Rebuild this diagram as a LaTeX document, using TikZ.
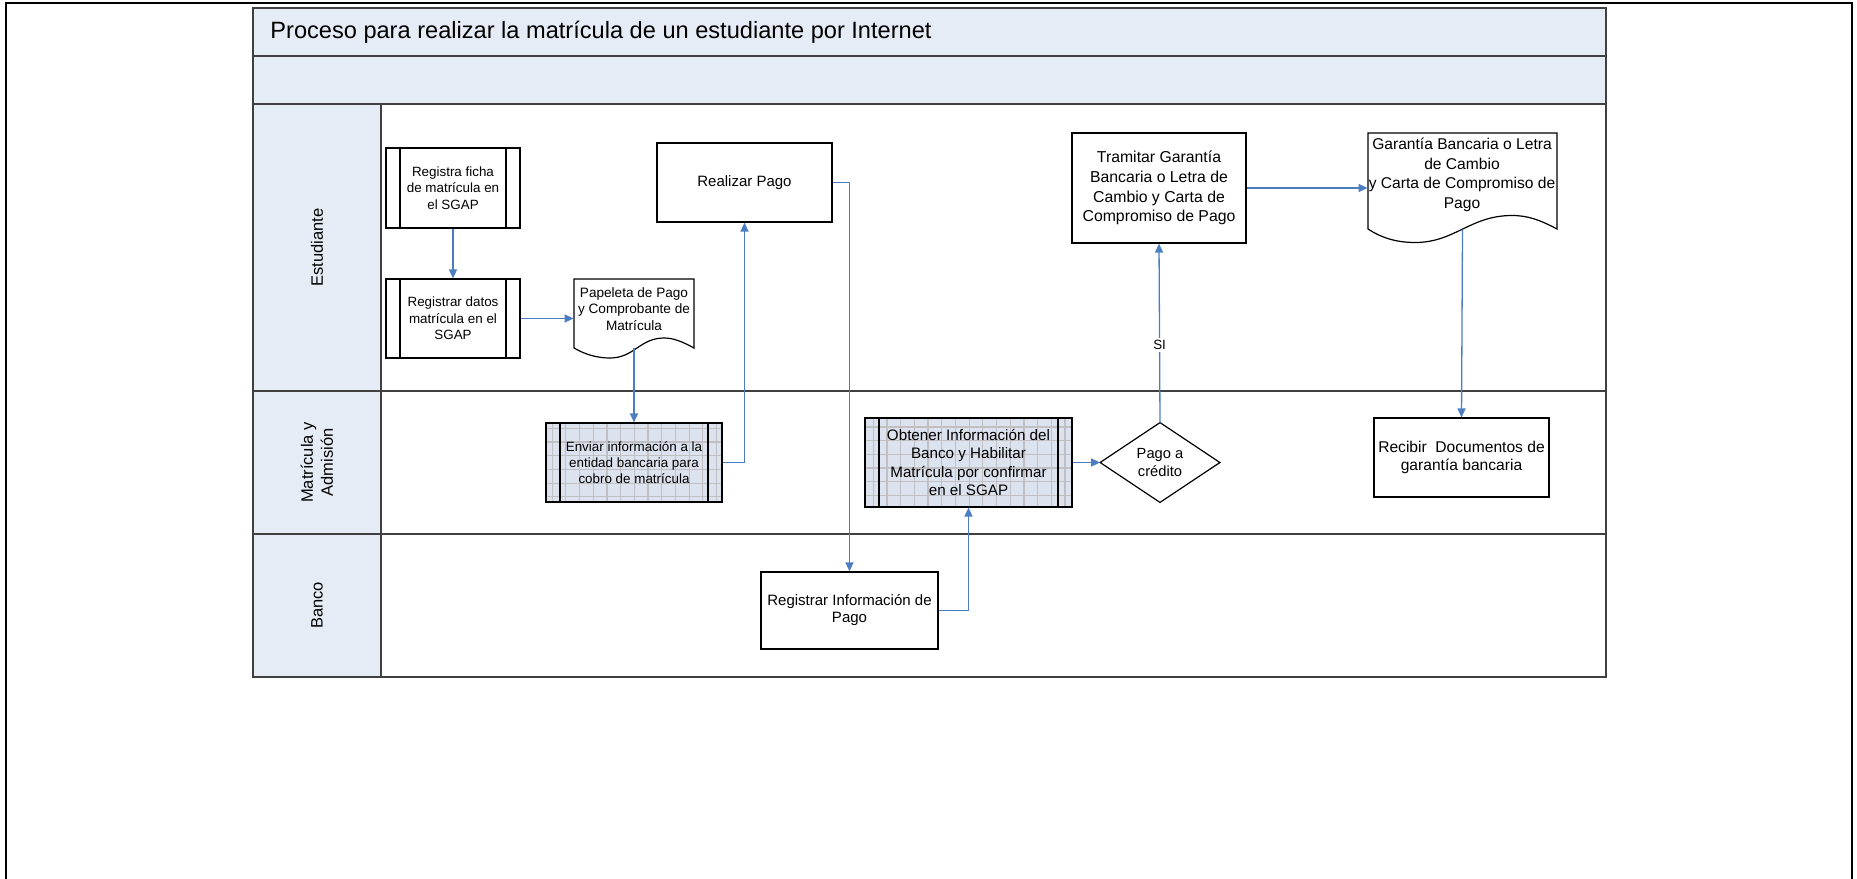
\documentclass[tikz,border=0pt]{standalone}
\usepackage{fontspec}
\setmainfont{Liberation Sans}
\usetikzlibrary{arrows.meta,calc}
\definecolor{lanefill}{RGB}{230,236,246}
\definecolor{gridfill}{RGB}{220,226,238}
\definecolor{gridline}{RGB}{192,192,196}
\definecolor{conncol}{RGB}{74,126,193}
\definecolor{poolline}{RGB}{64,64,64}
\newcommand\myfs[2]{\fontsize{#1}{#2}\selectfont}
\begin{document}
\begin{tikzpicture}[x=0.5pt,y=-0.5pt,
  box/.style={draw=black, line width=0.6pt, fill=white, inner sep=0pt, align=center},
  sidebars/.style={path picture={\draw[black,line width=0.6pt]
      ([xshift=7pt]path picture bounding box.north west) -- ([xshift=7pt]path picture bounding box.south west)
      ([xshift=-7pt]path picture bounding box.north east) -- ([xshift=-7pt]path picture bounding box.south east);}},
  gridbox/.style={box, fill=gridfill, path picture={
      \draw[gridline,line width=0.6pt,step=6.85pt] (path picture bounding box.south west) grid (path picture bounding box.north east);
      \draw[black,line width=0.6pt]
      ([xshift=7pt]path picture bounding box.north west) -- ([xshift=7pt]path picture bounding box.south west)
      ([xshift=-7pt]path picture bounding box.north east) -- ([xshift=-7pt]path picture bounding box.south east);}},
  shapebox/.style={draw=none, inner sep=0pt, align=center},
  conn/.style={draw=conncol, line width=0.65pt, -{Triangle[length=4.5pt,width=4pt]}},
  lanelbl/.style={rotate=90, font=\myfs{8.25}{10}, align=center},
  outline/.style={draw=black, line width=0.6pt}
]
\useasboundingbox (0,0) rectangle (1857,878);
% outer frame
\draw[line width=1.2pt] (6,3) rectangle (1852,900);
% pool
\fill[lanefill] (253,8) rectangle (1606,104);
\fill[lanefill] (253,104) rectangle (381,677);
\draw[poolline,line width=0.8pt] (253,8) rectangle (1606,677);
\draw[poolline,line width=0.8pt] (253,56) -- (1606,56) (253,104) -- (1606,104)
  (253,391) -- (1606,391) (253,534) -- (1606,534) (381,104) -- (381,677);
\node[anchor=base west, font=\myfs{11.8}{14}, inner sep=0pt] (title) at (270,39) {Proceso para realizar la matrícula de un estudiante por Internet};
% lane labels
\node[lanelbl] (lane1) at (317,247.5) {Estudiante};
\node[lanelbl] (lane2) at (317,462.5) {Matrícula y\\Admisión};
\node[lanelbl] (lane3) at (317,605.5) {Banco};

% nodes
\node[box, sidebars, minimum width=67pt, minimum height=40pt, font=\myfs{6.7}{8.25}] (rf) at (453,188) {Registra ficha\\de matrícula en\\el SGAP};
\node[box, sidebars, minimum width=67pt, minimum height=39.5pt, font=\myfs{6.7}{8.25}] (rd) at (453,318.5) {Registrar datos\\matrícula en el\\SGAP};
\node[shapebox, minimum width=60pt, minimum height=34.5pt] (pap) at (634,313.5) {};
\draw[outline] (574,348) -- (574,279) -- (694,279) -- (694,348)
  .. controls (683,342) and (674,338) .. (664,338)
  .. controls (640,338) and (634,358) .. (610,358)
  .. controls (598,358) and (586,355) .. (574,348);
\node[font=\myfs{6.8}{8.15}, align=center, inner sep=0pt] (papt) at (634,309) {Papeleta de Pago\\y Comprobante de\\Matrícula};
\node[box, minimum width=87.5pt, minimum height=39.5pt, font=\myfs{7.5}{9}] (rp) at (744.5,182.5) {Realizar Pago};
\node[gridbox, minimum width=88pt, minimum height=39.5pt, font=\myfs{6.7}{7.9}] (env) at (634,462.5) {Enviar información a la\\entidad bancaria para\\cobro de matrícula};
\node[gridbox, minimum width=103.5pt, minimum height=44.5pt, font=\myfs{7.6}{9.15}] (ob) at (968.5,462.5) {Obtener Información del\\Banco y Habilitar\\Matrícula por confirmar\\en el SGAP};
\node[shapebox, minimum width=59.5pt, minimum height=39.5pt, font=\myfs{7.35}{8.85}] (dia) at (1160,462.5) {Pago a\\crédito};
\draw[outline] (dia.north) -- (dia.east) -- (dia.south) -- (dia.west) -- cycle;
\node[box, minimum width=87pt, minimum height=55pt, font=\myfs{7.9}{9.85}] (tr) at (1159,188) {Tramitar Garantía\\Bancaria o Letra de\\Cambio y Carta de\\Compromiso de Pago};
\node[shapebox, minimum width=94.5pt, minimum height=48pt] (gar) at (1462.5,181) {};
\draw[outline] (1557,229)
  .. controls (1540,220) and (1528,215.5) .. (1512,215.5)
  .. controls (1470,215.5) and (1455,242.5) .. (1415,242.5)
  .. controls (1395,242.5) and (1380,237) .. (1368,229)
  -- (1368,133) -- (1557,133) -- cycle;
\node[font=\myfs{7.8}{9.75}, align=center, inner sep=0pt] (gart) at (1462,175) {Garantía Bancaria o Letra\\de Cambio\\y Carta de Compromiso de\\Pago};
\node[box, minimum width=87.5pt, minimum height=39.5pt, font=\myfs{7.8}{9.15}] (rec) at (1461.5,457.5) {Recibir\ \ Documentos de\\garantía bancaria};
\node[box, minimum width=88.5pt, minimum height=38.5pt, font=\myfs{7.5}{8.5}] (ri) at (849.5,610.5) {Registrar Información de\\Pago};

% connectors
\draw[conn] (rf) -- (rd);
\draw[conn] (rd.east) -- (rd.east -| pap.west);
\draw[conn] (pap.south) -- (env.north);
\draw[conn] (env.east) -| (rp.south);
\draw[conn] (rp.east) -| (ri.north);
\draw[conn] (ri.east) -| (ob.south);
\draw[conn] (ob.east) -- (dia.west);
\draw[conn] (dia.north) -- node[pos=0.433, fill=white, inner sep=1pt, font=\myfs{6.7}{8}] {SI} (tr.south);
\draw[conn] (tr.east) -- (tr.east -| gar.west);
\draw[conn] (gar.south) -- (rec.north);
\end{tikzpicture}
\end{document}
